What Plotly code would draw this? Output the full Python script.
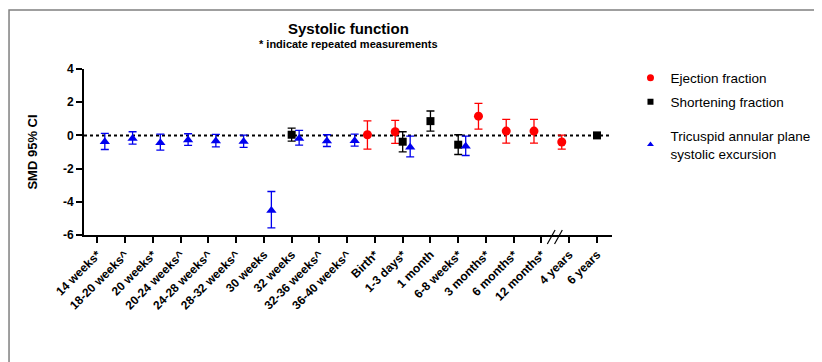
import plotly.graph_objects as go

categories = ["14 weeks*", "18-20 weeks^", "20 weeks*", "20-24 weeks^", "24-28 weeks^",
              "28-32 weeks^", "30 weeks", "32 weeks", "32-36 weeks^", "36-40 weeks^",
              "Birth*", "1-3 days*", "1 month", "6-8 weeks*", "3 months*", "6 months*",
              "12 months*", "4 years", "6 years"]

# Ejection fraction (red circles)
ef_cats = ["Birth*", "1-3 days*", "3 months*", "6 months*", "12 months*", "4 years"]
ef_val = [0.04, 0.22, 1.16, 0.26, 0.26, -0.40]
ef_hi = [0.88, 0.90, 1.93, 0.96, 0.96, 0.02]
ef_lo = [-0.83, -0.48, 0.38, -0.46, -0.46, -0.83]

# Shortening fraction (black squares)
sf_cats = ["32 weeks", "1-3 days*", "1 month", "6-8 weeks*", "6 years"]
sf_val = [0.04, -0.38, 0.86, -0.56, 0.00]
sf_hi = [0.44, 0.22, 1.47, 0.04, 0.04]
sf_lo = [-0.34, -0.99, 0.26, -1.15, -0.04]

# Tricuspid annular plane systolic excursion (blue triangles)
ta_cats = ["14 weeks*", "18-20 weeks^", "20 weeks*", "20-24 weeks^", "24-28 weeks^",
           "28-32 weeks^", "30 weeks", "32 weeks", "32-36 weeks^", "36-40 weeks^",
           "1-3 days*", "6-8 weeks*"]
ta_val = [-0.38, -0.18, -0.44, -0.28, -0.34, -0.36, -4.53, -0.18, -0.34, -0.32, -0.72, -0.66]
ta_hi = [0.12, 0.22, 0.08, 0.10, 0.06, 0.02, -3.38, 0.30, 0.04, 0.08, -0.04, -0.04]
ta_lo = [-0.85, -0.52, -0.89, -0.60, -0.69, -0.72, -5.57, -0.59, -0.67, -0.65, -1.29, -1.21]

y_ticks = [-6, -4, -2, 0, 2, 4]

idx = {c: i for i, c in enumerate(categories)}

def series(cats, vals, hi, lo, offset, name, color, symbol, size):
    xs = [idx[c] + offset for c in cats]
    return go.Scatter(
        x=xs, y=vals, mode="markers", name=name, showlegend=False,
        marker=dict(color=color, symbol=symbol, size=size),
        error_y=dict(type="data", symmetric=False,
                     array=[h - v for h, v in zip(hi, vals)],
                     arrayminus=[v - l for v, l in zip(vals, lo)],
                     color=color, thickness=1.3, width=4),
    )

def legend_entry(name, color, symbol, size, legend):
    return go.Scatter(x=[None], y=[None], mode="markers", name=name,
                      legend=legend, showlegend=True,
                      marker=dict(color=color, symbol=symbol, size=size))

fig = go.Figure()
fig.add_trace(series(ef_cats, ef_val, ef_hi, ef_lo, -0.27, "Ejection fraction", "#ff0000", "circle", 9))
fig.add_trace(series(sf_cats, sf_val, sf_hi, sf_lo, 0.0, "Shortening fraction", "#000000", "square", 8))
fig.add_trace(series(ta_cats, ta_val, ta_hi, ta_lo, 0.27,
                     "Tricuspid annular plane systolic excursion", "#0000ee", "triangle-up", 9))

fig.add_trace(legend_entry("Ejection fraction", "#ff0000", "circle", 7, "legend"))
fig.add_trace(legend_entry("Shortening fraction", "#000000", "square", 6, "legend2"))
fig.add_trace(legend_entry("Tricuspid annular plane<br>systolic excursion", "#0000ee", "triangle-up", 6, "legend3"))

font_family = "Liberation Sans, Arial, sans-serif"
leg_font = dict(size=13.5, family=font_family, color="black")
leg_common = dict(x=1.035, xanchor="left", yanchor="middle", font=leg_font,
                  itemsizing="trace", bgcolor="rgba(0,0,0,0)")

fig.update_layout(
    width=822, height=362,
    margin=dict(l=76, r=218, t=61, b=135, autoexpand=False),
    paper_bgcolor="white", plot_bgcolor="white",
    font=dict(family=font_family, color="black"),
    showlegend=True,
    legend=dict(y=0.946, **leg_common),
    legend2=dict(y=0.801, **leg_common),
    legend3=dict(y=0.542, **leg_common),
    xaxis=dict(range=[-0.48, 18.54], tickmode="array",
               tickvals=list(range(len(categories))),
               ticktext=["<b>%s</b>" % c for c in categories],
               tickangle=-45, tickfont=dict(size=12, family=font_family),
               showline=True, linecolor="black", linewidth=2,
               ticks="outside", ticklen=6, tickwidth=2, tickcolor="black",
               showgrid=False, zeroline=False, automargin=False),
    yaxis=dict(range=[-6, 4], tickvals=y_ticks,
               ticktext=["<b>%d</b>" % v for v in y_ticks],
               tickfont=dict(size=12, family=font_family),
               showline=True, linecolor="black", linewidth=2,
               ticks="outside", ticklen=6, tickwidth=2, tickcolor="black",
               showgrid=False, zeroline=False, automargin=False,
               title=dict(text="<b>SMD 95% CI</b>", font=dict(size=13, family=font_family),
                          standoff=22)),
)

# dotted zero reference line
fig.add_shape(type="line", xref="paper", yref="y", x0=0, x1=1, y0=0, y1=0,
              line=dict(color="black", width=2, dash="dot"), layer="below")

# axis break marks
for dx in (0.0, 0.26):
    fig.add_shape(type="line", xref="x", yref="paper",
                  x0=16.21 + dx, x1=16.49 + dx, y0=-0.054, y1=0.03,
                  line=dict(color="black", width=1.2))

# outer frame
fig.add_shape(type="rect", xref="paper", yref="paper",
              x0=-0.142, x1=1.392, y0=-0.8, y1=1.355,
              line=dict(color="#808080", width=1.5))

fig.add_annotation(text="<b>Systolic function</b>", xref="paper", yref="paper",
                   x=0.5, y=1.245, xanchor="center", yanchor="middle",
                   showarrow=False, font=dict(size=15, family=font_family))
fig.add_annotation(text="<b>* indicate repeated measurements</b>", xref="paper", yref="paper",
                   x=0.5, y=1.148, xanchor="center", yanchor="middle",
                   showarrow=False, font=dict(size=11, family=font_family))

fig.write_html("out.html")
